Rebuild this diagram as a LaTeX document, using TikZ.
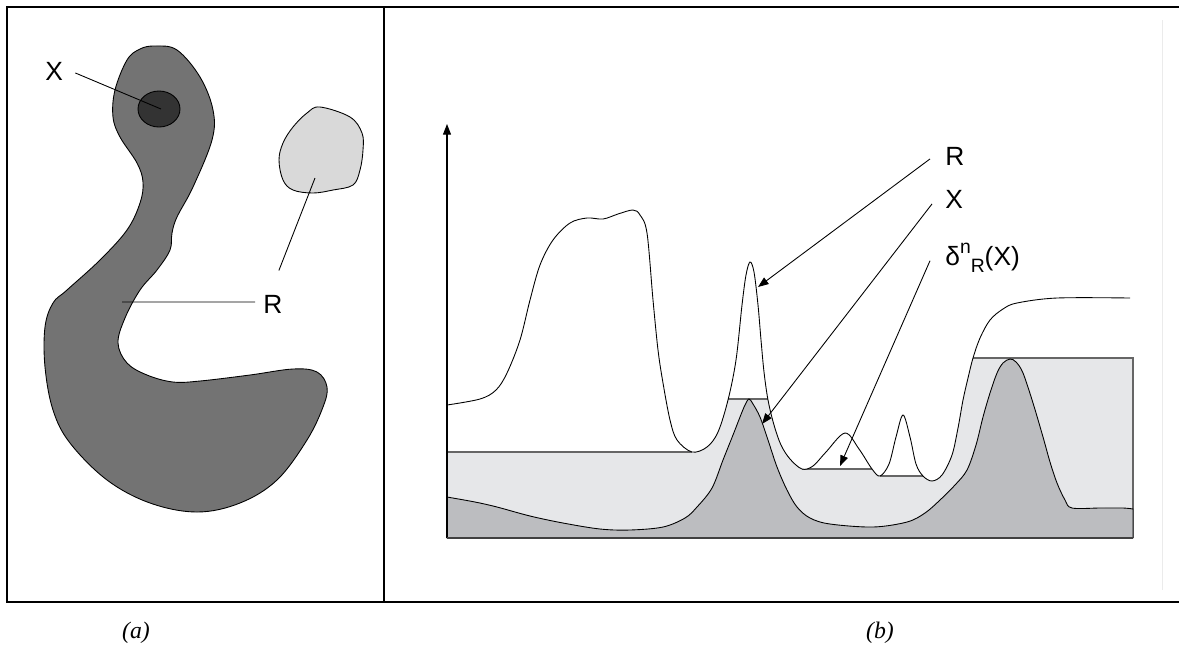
\documentclass[tikz,border=0pt]{standalone}
\usepackage{fontspec}
\setmainfont{Liberation Serif}
\setsansfont{Liberation Sans}
\usepackage{tikz}
\usetikzlibrary{arrows.meta, positioning}
\definecolor{grisRegion}{RGB}{115,115,115}
\definecolor{grisMarca}{RGB}{51,51,51}
\definecolor{grisClaro}{RGB}{217,217,217}
\definecolor{grisRecon}{RGB}{230,231,233}
\definecolor{grisMarcador}{RGB}{188,189,192}
\definecolor{grisEje}{RGB}{64,64,64}

% curva de la imagen f (panel b)
\newcommand{\curvaF}{plot[smooth, tension=0.55] coordinates {
  (447,405) (480,399) (496,390) (507,373) (520,340) (530,300) (540,265)
  (553,240) (570,223) (587,218) (603,219) (618,214) (633,210) (640,215)
  (647,233) (653,300) (658,350) (663,383) (670,420) (677,440) (692,452)
  (707,447) (718,432) (728,400) (736,360) (742,305) (746,275) (750,262)
  (754,272) (758,305) (761,340) (764,372) (768,400) (774,425) (781,445)
  (790,459) (802,469) (813,466) (826,452) (845,433) (859,449) (872,469)
  (880,476) (889,464) (896,437) (903,415) (910,437) (916,464) (923,476)
  (932,481) (942,475) (952,455) (958,428) (963,400) (968,378) (973,358)
  (980,338) (990,320) (1003,309) (1017,303) (1057,298) (1130,298)}}

\begin{document}
\begin{tikzpicture}[x=0.02cm, y=-0.02cm,
  lbl/.style={font=\sffamily\fontsize{15}{18}\selectfont, inner sep=0pt},
  capt/.style={font=\itshape\fontsize{13.5}{16}\selectfont, inner sep=0pt},
  pline/.style={line width=0.5pt},
  parr/.style={line width=0.5pt, -{Triangle[length=6pt, width=4.5pt]}},
  marco/.style={line width=1.6pt},
  nivel/.style={line width=0.6pt, draw=grisEje!80}
]
  \useasboundingbox (0,0) rectangle (1179,647);

  % marco
  \draw[marco] (1179,7) -- (7,7) -- (7,602) -- (1179,602);
  \draw[marco] (384,7) -- (384,602);
  \draw[black!8, line width=0.5pt] (1162,20) -- (1162,590);

  % panel (a)
  \filldraw[fill=grisRegion, draw=black, line width=0.5pt]
    plot[smooth cycle, tension=0.6] coordinates {
      (155,46) (177,50) (200,77) (213,110) (212,140) (193,187) (177,217)
      (172,233) (170,250) (157,270) (140,290) (125,318) (118,343) (127,363)
      (147,375) (173,382) (200,381) (250,375) (293,369) (317,372) (327,387)
      (323,407) (307,440) (277,480) (240,503) (197,512) (150,503) (107,480)
      (70,443) (53,410) (45,367) (45,327) (53,303) (67,290) (100,260)
      (127,230) (140,203) (143,182) (137,163) (120,137) (113,117) (115,90)
      (127,60) (140,49)};
  \filldraw[fill=grisMarca, draw=black, line width=0.5pt] (159,109) ellipse (21 and 18);
  \filldraw[fill=grisClaro, draw=black, line width=0.5pt]
    plot[smooth cycle, tension=0.6] coordinates {
      (320,107) (350,117) (362,133) (363,150) (360,170) (353,185) (333,190)
      (313,193) (293,190) (283,180) (279,160) (283,143) (293,127) (307,113)};

  \node[lbl, anchor=base west] (labX) at (45,80) {X};
  \node[lbl, anchor=base west] (labR) at (263,313) {R};
  \coordinate (marcaX) at (161,109);
  \coordinate (regR) at (122,302);
  \coordinate (claroR) at (315,178);
  \draw[pline] ([shift={(12,2)}]labX.east) -- (marcaX);
  \draw[pline] ([shift={(-8,-2)}]labR.west) -- (regR);
  \draw[pline] ([shift={(6,-24)}]labR.north) -- (claroR);

  % panel (b): reconstruccion bajo f
  \begin{scope}
    \clip \curvaF -- (1140,298) -- (1140,545) -- (440,545) -- (440,405) -- cycle;
    \fill[grisRecon] (447,538) -- (447,452) -- (692,452) -- (692,399)
      -- (802,399) -- (802,469) -- (880,469) -- (880,476) -- (930,476)
      -- (930,358) -- (1133,358) -- (1133,538) -- cycle;
    \draw[nivel] (447,452) -- (692,452);
    \draw[nivel] (692,399) -- (802,399);
    \draw[nivel] (802,469) -- (880,469);
    \draw[nivel] (880,476) -- (930,476);
    \draw[nivel] (930,358) -- (1133,358) -- (1133,538);
  \end{scope}

  % marcador X
  \filldraw[fill=grisMarcador, draw=black, line width=0.5pt] (447,538) --
    plot[smooth, tension=0.55] coordinates {
      (447,497) (475,502) (497,507) (530,516) (563,523) (600,529) (630,530)
      (663,527) (685,518) (697,507) (712,488) (723,460) (733,435) (740,417)
      (745,405) (749,399) (753,404) (760,417) (768,440) (777,467) (787,490)
      (797,507) (810,518) (830,524) (873,527) (907,522) (925,513) (940,500)
      (955,485) (967,470) (976,445) (983,417) (990,393) (997,373) (1003,363)
      (1010,359) (1016,362) (1023,373) (1033,403) (1043,437) (1050,462)
      (1057,483) (1065,500) (1072,508) (1100,508) (1123,508) (1133,509)}
    -- (1133,538) -- cycle;

  \draw[line width=0.5pt] \curvaF;

  % ejes
  \coordinate (orig) at (447,538);
  \coordinate (ejeY) at (447,124);
  \coordinate (ejeX) at (1133,538);
  \draw[line width=0.6pt, -{Triangle[length=6pt, width=4.5pt]}] (orig) -- (ejeY);
  \draw[grisEje, line width=1.3pt] (orig) -- (ejeX);

  \node[lbl, anchor=base west] (labRb) at (945,165) {R};
  \node[lbl, anchor=base west] (labXb) at (945,208) {X};
  \node[lbl, anchor=base west] (labD) at (945,265)
    {δ\raisebox{0.85ex}{\fontsize{11}{13}\selectfont n}\raisebox{-0.55ex}{\fontsize{11}{13}\selectfont R}(X)};
  \coordinate (picoR) at (758,287);
  \coordinate (picoX) at (762,424);
  \coordinate (picoD) at (840,466);
  \draw[parr] ([shift={(-15,3)}]labRb.west) -- (picoR);
  \draw[parr] ([shift={(-13,5)}]labXb.west) -- (picoX);
  \draw[parr] ([shift={(-15,3)}]labD.west) -- (picoD);

  \node[capt] (capA) at (136,633) {(a)};
  \node[capt] (capB) at (880,633) {(b)};
\end{tikzpicture}
\end{document}
